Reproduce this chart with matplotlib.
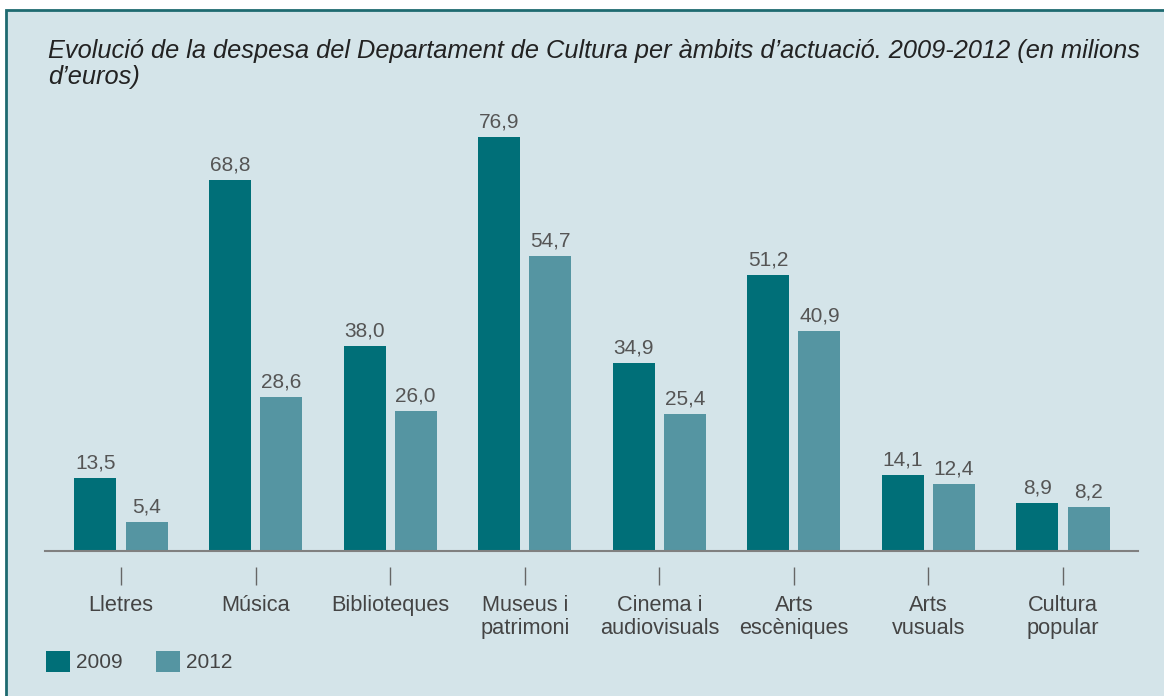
import matplotlib
matplotlib.use("Agg")
import matplotlib.pyplot as plt
from matplotlib.patches import Rectangle
from matplotlib.transforms import blended_transform_factory
import numpy as np

plt.rcParams['font.family'] = ['Liberation Sans', 'DejaVu Sans']

categories = ["Lletres", "Música", "Biblioteques", "Museus i\npatrimoni",
              "Cinema i\naudiovisuals", "Arts\nescèniques", "Arts\nvusuals",
              "Cultura\npopular"]
values_2009 = [13.5, 68.8, 38.0, 76.9, 34.9, 51.2, 14.1, 8.9]
values_2012 = [5.4, 28.6, 26.0, 54.7, 25.4, 40.9, 12.4, 8.2]
series_labels = ["2009", "2012"]

c2009 = "#006f78"
c2012 = "#5595a2"
bg = "#d4e4e9"
txt = "#555555"

W, H = 1164, 696
fig = plt.figure(figsize=(W / 100, H / 100), dpi=100, facecolor="white")

# panel background with border on left and top
fig.patches.append(Rectangle((6 / W, -0.05), 1.1, 1 - 10 / H + 0.05,
                             transform=fig.transFigure, facecolor=bg,
                             edgecolor="#1e6a70", linewidth=2, zorder=-10))

ax = fig.add_axes([45 / W, 1 - 551 / H, (1138 - 45) / W, (551 - 120) / H])
ax.set_facecolor("none")

x = np.arange(len(categories))
bw = 0.312
off = 0.19
b1 = ax.bar(x - off, values_2009, bw, color=c2009, label=series_labels[0])
b2 = ax.bar(x + off, values_2012, bw, color=c2012, label=series_labels[1])

for bars, vals in ((b1, values_2009), (b2, values_2012)):
    for rect, v in zip(bars, vals):
        ax.annotate(f"{v:.1f}".replace(".", ","),
                    (rect.get_x() + rect.get_width() / 2, rect.get_height()),
                    xytext=(0, 4), textcoords="offset points",
                    ha="center", va="bottom", fontsize=15, color=txt)

ax.set_xlim(-0.565, 7.557)
ax.set_ylim(0, 80)
for s in ("top", "right", "left"):
    ax.spines[s].set_visible(False)
ax.spines["bottom"].set_color("#808080")
ax.spines["bottom"].set_linewidth(1.5)
ax.set_yticks([])
ax.set_xticks(x)
ax.set_xticklabels(categories, fontsize=15.7, color="#444444", linespacing=1.12)
ax.tick_params(axis="x", length=0, pad=32)

axh = (551 - 120)
tr = blended_transform_factory(ax.transData, ax.transAxes)
ax.vlines(x, -16 / axh, -34 / axh, transform=tr, color="#666666",
          linewidth=1, clip_on=False)

fig.text(48 / W, 1 - 64 / H,
         "Evolució de la despesa del Departament de Cultura per àmbits d’actuació. 2009-2012 (en milions\nd’euros)",
         fontsize=18.3, style="italic", color="#222222", va="center", ha="left",
         linespacing=1.1)

leg = fig.legend(handles=[b1, b2], labels=series_labels, loc="lower left",
                 bbox_to_anchor=(27 / W, 1 - 691 / H), ncol=2, frameon=False,
                 fontsize=15, handlelength=1.15, handleheight=1.15,
                 handletextpad=0.3, columnspacing=1.6, labelcolor="#444444")

fig.savefig("out.png", dpi=100, facecolor=fig.get_facecolor())
